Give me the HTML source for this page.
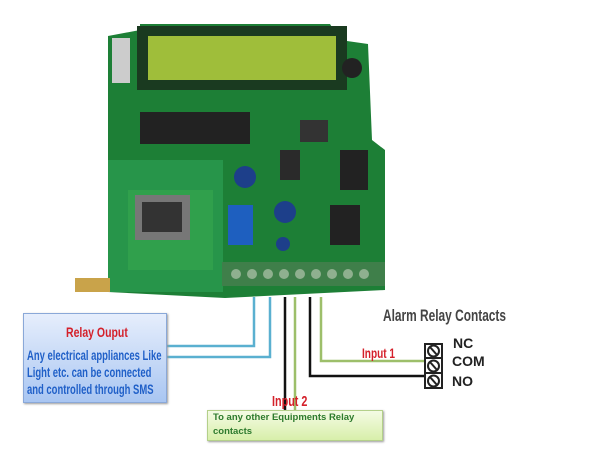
<!DOCTYPE html><html><head><style>
body{margin:0;width:604px;height:452px;background:#fff;position:relative;overflow:hidden;font-family:"Liberation Sans",sans-serif}
.a{position:absolute}
</style></head><body>
<svg class="a" style="left:0;top:0" width="604" height="452">
<path d="M108 36 L140 30 L140 24 L330 24 L340 40 L368 44 L372 140 L385 150 L385 290 L225 298 L108 292 Z" fill="#1d7f36"/>
<rect x="108" y="160" width="115" height="132" fill="#27954a"/>
<rect x="128" y="190" width="85" height="80" fill="#30a04c"/>
<rect x="135" y="195" width="55" height="45" fill="#777"/>
<rect x="142" y="202" width="40" height="30" fill="#333"/>
<rect x="137" y="26" width="210" height="64" fill="#1a3a20"/>
<rect x="148" y="36" width="188" height="44" fill="#9fbe3a"/>
<rect x="112" y="38" width="18" height="45" fill="#ccc"/>
<circle cx="352" cy="68" r="10" fill="#222"/>
<rect x="140" y="112" width="110" height="32" fill="#222"/>
<rect x="300" y="120" width="28" height="22" fill="#333"/>
<rect x="280" y="150" width="20" height="30" fill="#2a2a2a"/>
<rect x="340" y="150" width="28" height="40" fill="#222"/>
<rect x="330" y="205" width="30" height="40" fill="#222"/>
<circle cx="245" cy="177" r="11" fill="#1d3f8a"/>
<circle cx="285" cy="212" r="11" fill="#1d3f8a"/>
<rect x="228" y="205" width="25" height="40" fill="#1e5fbf"/>
<circle cx="283" cy="244" r="7" fill="#1d3f8a"/>
<rect x="222" y="262" width="163" height="24" fill="#3f7f4a"/>
<g fill="#8fb08f"><circle cx="236" cy="274" r="5"/><circle cx="252" cy="274" r="5"/><circle cx="268" cy="274" r="5"/><circle cx="284" cy="274" r="5"/><circle cx="300" cy="274" r="5"/><circle cx="316" cy="274" r="5"/><circle cx="332" cy="274" r="5"/><circle cx="348" cy="274" r="5"/><circle cx="364" cy="274" r="5"/></g>
<rect x="75" y="278" width="35" height="14" fill="#c9a34a"/>
<g fill="none" stroke-width="2.5">
<polyline points="167,346 254,346 254,297" stroke="#5ab0d0"/>
<polyline points="167,357 270,357 270,297" stroke="#5ab0d0"/>
<polyline points="285,297 285,410" stroke="#111"/>
<polyline points="295,297 295,410" stroke="#9dbf6a"/>
<polyline points="310,297 310,376 425,376" stroke="#111"/>
<polyline points="321,297 321,361 425,361" stroke="#9dbf6a"/>
</g>
<rect x="425" y="344" width="17" height="44" fill="#fff" stroke="#222" stroke-width="2"/>
<g stroke="#222" stroke-width="2" fill="none">
<line x1="425" y1="358" x2="442" y2="358"/><line x1="425" y1="373" x2="442" y2="373"/>
<circle cx="433.5" cy="351" r="5.5"/><circle cx="433.5" cy="366" r="5.5"/><circle cx="433.5" cy="381" r="5.5"/>
<line x1="430" y1="347" x2="437" y2="355"/><line x1="430" y1="362" x2="437" y2="370"/><line x1="430" y1="377" x2="437" y2="385"/>
</g>
</svg>
<div class="a" style="left:23px;top:313px;width:142px;height:88px;background:linear-gradient(#e6eefc,#a9c6f2);border:1px solid #8aa8d8;box-shadow:1px 1px 2px #999"></div>
<div class="a" style="left:66px;top:324px;color:#d4202a;font-size:14px;font-weight:bold;transform:scaleX(.75);transform-origin:left;white-space:nowrap">Relay Ouput</div>
<div class="a" style="left:27px;top:347px;width:200px;color:#2060c8;font-size:13.5px;font-weight:bold;line-height:17px;transform:scaleX(.7);transform-origin:left;white-space:nowrap">Any electrical appliances Like<br>Light etc. can be connected<br>and controlled through SMS</div>
<div class="a" style="left:207px;top:410px;width:174px;height:29px;background:linear-gradient(#f4fbe4,#d8efaa);border:1px solid #b4d08a;box-shadow:1px 1px 2px #999"></div>
<div class="a" style="left:272px;top:393px;color:#d4202a;font-size:15px;font-weight:bold;transform:scaleX(.72);transform-origin:left;white-space:nowrap">Input 2</div>
<div class="a" style="left:213px;top:411px;color:#2d7a2d;font-size:9.5px;font-weight:bold;line-height:14px;white-space:nowrap">To any other Equipments Relay<br>contacts</div>
<div class="a" style="left:383px;top:306px;color:#444;font-size:17px;font-weight:bold;transform:scaleX(.7);transform-origin:left;white-space:nowrap">Alarm Relay Contacts</div>
<div class="a" style="left:362px;top:345px;color:#d4202a;font-size:14px;font-weight:bold;transform:scaleX(.72);transform-origin:left;white-space:nowrap">Input 1</div>
<div class="a" style="left:453px;top:335px;font-size:14px;font-weight:bold;color:#222">NC</div>
<div class="a" style="left:452px;top:353px;font-size:14px;font-weight:bold;color:#222">COM</div>
<div class="a" style="left:452px;top:373px;font-size:14px;font-weight:bold;color:#222">NO</div>
</body></html>
